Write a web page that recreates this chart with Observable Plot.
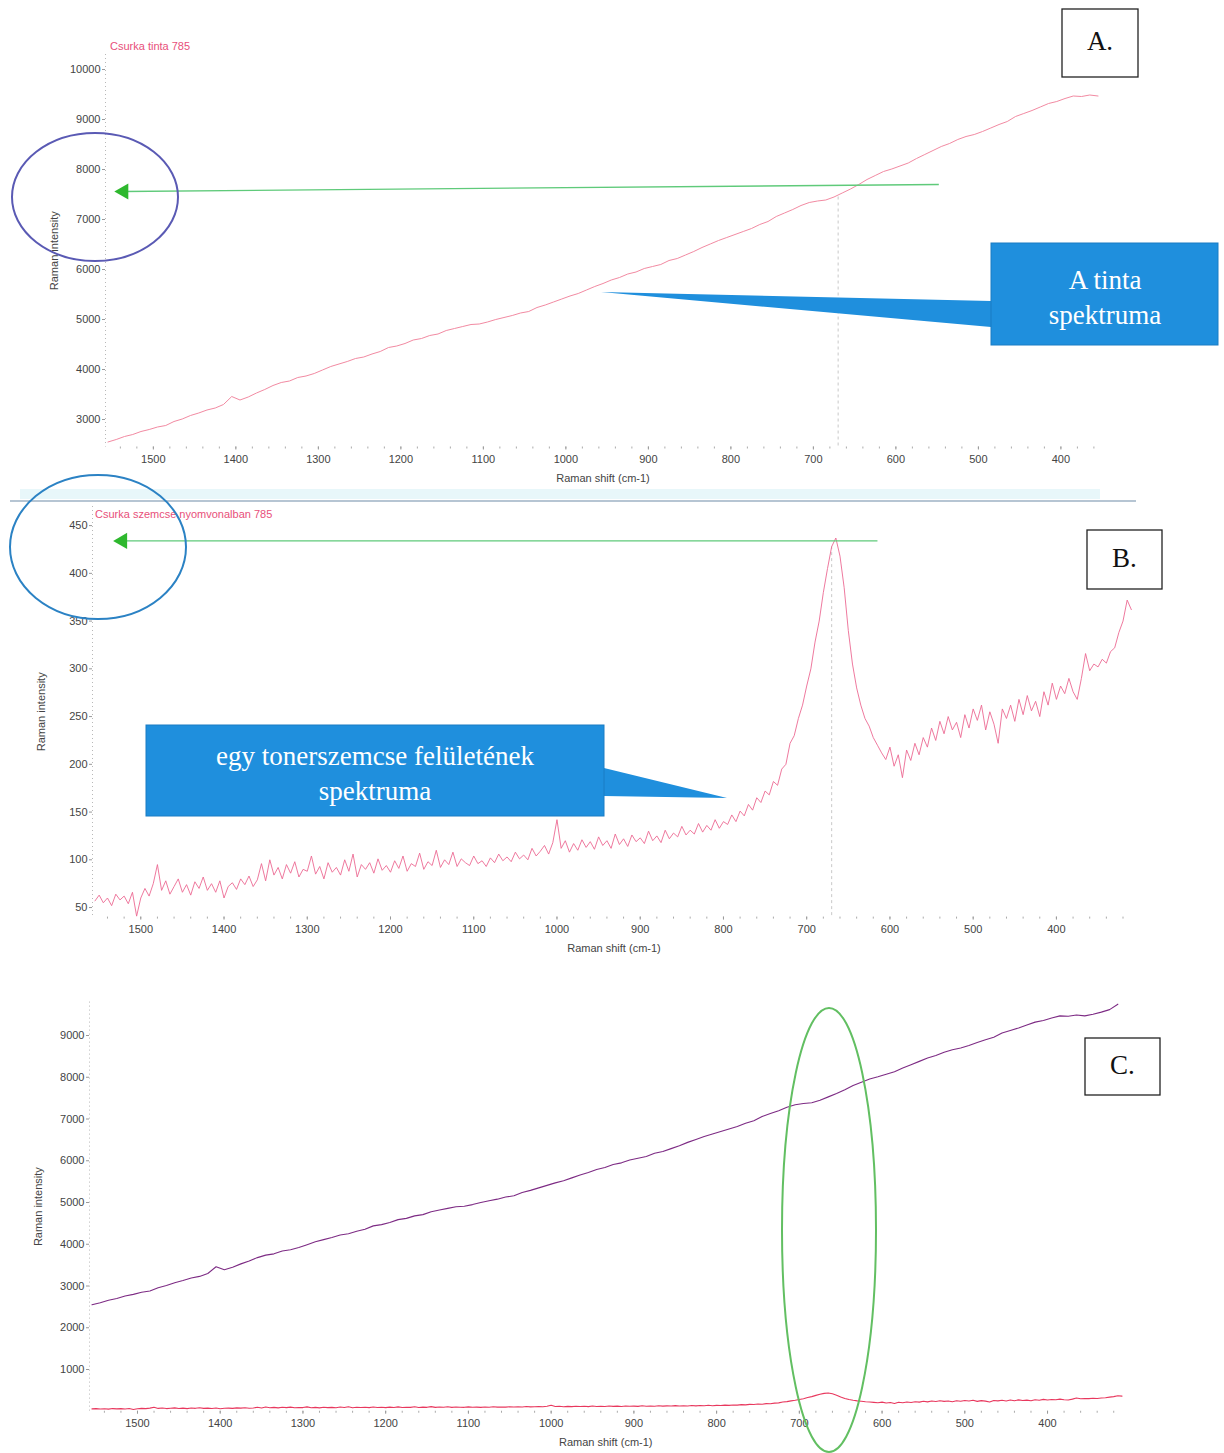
<!DOCTYPE html>
<html><head><meta charset="utf-8">
<script src="https://cdn.jsdelivr.net/npm/d3@7"></script>
<script src="https://cdn.jsdelivr.net/npm/@observablehq/plot@0.6"></script>
<style>
body{margin:0;background:#fff;}
#page{position:relative;width:1224px;height:1453px;overflow:hidden;font-family:"Liberation Sans",Arial,sans-serif;background:#fff;}
.panel{position:absolute;left:0;}
.ttl{position:absolute;font-size:11px;color:#e8507a;white-space:nowrap;line-height:12px;}
#overlay{position:absolute;left:0;top:0;}
</style></head><body><div id="page"></div>
<script>
// ---------- DATA ----------
// Ink spectrum (Csurka tinta 785), Raman shift step 10 cm-1 from 1555 down to 315
const inkShift = d3.range(1555, 314, -10);
const inkIntensity = [
  2550,2600,2660,2700,2760,2800,2850,2880,2960,3010,
  3080,3130,3190,3230,3300,3460,3390,3450,3530,3600,
  3680,3740,3770,3840,3870,3920,3990,4060,4110,4160,
  4220,4250,4310,4360,4440,4470,4520,4590,4620,4680,
  4710,4780,4820,4860,4900,4910,4950,5000,5040,5080,
  5130,5160,5240,5290,5350,5410,5470,5520,5590,5660,
  5720,5790,5840,5910,5950,6020,6060,6100,6180,6220,
  6290,6360,6440,6510,6580,6640,6700,6760,6820,6900,
  6960,7060,7130,7200,7280,7340,7370,7390,7450,7530,
  7610,7700,7800,7880,7960,8010,8070,8130,8220,8300,
  8380,8460,8520,8600,8660,8700,8760,8830,8900,8960,
  9060,9120,9180,9250,9320,9360,9420,9470,9460,9490,
  9470,9510,9560,9620,9750
];
// Toner grain spectrum (Csurka szemcse nyomvonalban 785), step 5 cm-1 from 1555 down to 310
const tonerShift = d3.range(1555, 309, -5);
const tonerIntensity = [
  57,63,55,60,52,64,58,62,54,66,41,60,70,62,75,95,68,78,64,72,
  80,66,74,63,77,70,82,68,75,66,78,60,72,76,69,80,74,83,72,79,
  96,78,100,84,92,80,95,86,98,82,90,88,104,85,93,80,97,87,92,84,
  100,88,106,82,95,90,97,86,101,89,94,87,99,91,104,88,96,93,107,90,
  98,94,110,92,100,95,108,93,101,97,94,104,96,99,93,102,97,106,99,103,
  98,108,101,105,100,112,104,109,115,106,118,142,112,120,108,117,110,121,113,119,
  111,124,115,120,112,127,116,122,114,126,119,123,117,130,120,125,118,131,122,128,
  124,135,126,131,127,138,129,136,131,142,133,140,137,147,140,151,146,158,152,165,
  160,172,168,182,178,195,200,222,230,248,262,282,300,328,350,380,405,428,437,418,
  385,340,305,280,262,248,240,228,220,212,205,218,198,210,186,215,204,222,210,228,
  218,238,225,245,232,250,236,244,228,252,238,258,246,262,236,255,242,222,258,248,
  262,245,268,252,272,256,266,250,276,262,285,268,282,274,290,276,268,290,316,298,
  305,302,310,306,318,322,338,350,372,362
];
const xTicks = [1500,1400,1300,1200,1100,1000,900,800,700,600,500,400];
const minorX = d3.range(320, 1560, 20);
const yTicksA = [3000,4000,5000,6000,7000,8000,9000,10000];
const yTicksB = [50,100,150,200,250,300,350,400,450];
const yTicksC = [1000,2000,3000,4000,5000,6000,7000,8000,9000];
const peakShift = [670];
const arrowA = [{x1: 548, y1: 7700, x2: 1536, y2: 7560}];
const arrowB = [{x1: 615, y1: 434, x2: 1522, y2: 434}];

const ink = inkShift.map((s, i) => ({shift: s, intensity: inkIntensity[i]}));
const toner = tonerShift.map((s, i) => ({shift: s, intensity: tonerIntensity[i]}));
const near = (rows, s) => rows.reduce((a, b) => Math.abs(b.shift - s) < Math.abs(a.shift - s) ? b : a);

// ---------- PANELS ----------
const page = document.getElementById("page");
const fmt = d => String(d);
function panel({top, height, mt, mb, ml, mr, xdom, ydom, yticks, marks}) {
  const lo = Math.min(...xdom), hi = Math.max(...xdom);
  const svg = Plot.plot({
    width: 1224, height, marginTop: mt, marginBottom: mb, marginLeft: ml, marginRight: mr,
    x: {domain: xdom}, y: {domain: ydom},
    style: {fontFamily: "Liberation Sans, Arial, sans-serif", fontSize: "11px", color: "#444", background: "transparent", overflow: "visible"},
    marks: [
      Plot.ruleX([xdom[0]], {stroke: "#b8b8b8", strokeDasharray: "1,3"}),
      Plot.axisY(yticks, {tickSize: 3, tickPadding: 2, tickFormat: fmt, stroke: "#999",
        label: "Raman intensity", labelAnchor: "center", labelArrow: "none", labelOffset: 55}),
      Plot.axisX(minorX.filter(d => d >= lo && d <= hi), {tickSize: 2, tickFormat: () => "", label: null, stroke: "#aaa"}),
      Plot.axisX(xTicks, {tickSize: 3, tickPadding: 5, tickFormat: fmt, stroke: "#999",
        label: "Raman shift (cm-1)", labelAnchor: "center", labelArrow: "none", labelOffset: 35}),
      ...marks
    ]
  });
  svg.classList.add("panel");
  svg.style.top = top + "px";
  page.appendChild(svg);
}

// Panel A
const inkA = ink.filter(d => d.shift >= 352);
panel({
  top: 0, height: 490, mt: 54, mb: 43.5, ml: 105, mr: 124,
  xdom: [1558, 352], ydom: [2450, 10300], yticks: yTicksA,
  marks: [
    Plot.ruleX(peakShift, {x: d => d, y1: d => near(ink, d).intensity, y2: 2450, stroke: "#c8c8c8", strokeDasharray: "3,3"}),
    Plot.line(inkA, {x: "shift", y: "intensity", stroke: "#f28aa2", strokeWidth: 1}),
    Plot.link(arrowA, {x1: "x1", y1: "y1", x2: "x2", y2: "y2", stroke: "#5fca7a", strokeWidth: 1.3}),
    Plot.dot(arrowA, {x: "x2", y: "y2", symbol: "triangle", rotate: -90, r: 6, fill: "#2eb82e", stroke: "none"})
  ]
});
// Panel B
panel({
  top: 490, height: 472, mt: 16, mb: 45.4, ml: 92, mr: 89,
  xdom: [1558, 305], ydom: [40, 470], yticks: yTicksB,
  marks: [
    Plot.ruleX(peakShift, {x: d => d, y1: d => near(toner, d).intensity, y2: 40, stroke: "#c8c8c8", strokeDasharray: "3,3"}),
    Plot.line(toner, {x: "shift", y: "intensity", stroke: "#ec6a93", strokeWidth: 0.9}),
    Plot.link(arrowB, {x1: "x1", y1: "y1", x2: "x2", y2: "y2", stroke: "#5fca7a", strokeWidth: 1.3}),
    Plot.dot(arrowB, {x: "x2", y: "y2", symbol: "triangle", rotate: -90, r: 6, fill: "#2eb82e", stroke: "none"})
  ]
});
// Panel C
panel({
  top: 962, height: 489, mt: 39.6, mb: 40.25, ml: 89, mr: 102.5,
  xdom: [1558, 310], ydom: [0, 9800], yticks: yTicksC,
  marks: [
    Plot.line(ink, {x: "shift", y: "intensity", stroke: "#7d2b84", strokeWidth: 1.1}),
    Plot.line(toner, {x: "shift", y: "intensity", stroke: "#e8385e", strokeWidth: 1.1})
  ]
});

// Titles
function title(txt, left, top) {
  const d = document.createElement("div");
  d.className = "ttl"; d.textContent = txt;
  d.style.left = left + "px"; d.style.top = top + "px";
  page.appendChild(d);
}
title("Csurka tinta 785", 110, 40);
title("Csurka szemcse nyomvonalban 785", 95, 508);

// ---------- ANNOTATION OVERLAY ----------
const ns = "http://www.w3.org/2000/svg";
const ov = document.createElementNS(ns, "svg");
ov.setAttribute("id", "overlay");
ov.setAttribute("width", 1224); ov.setAttribute("height", 1453);
function el(tag, attrs, text) {
  const e = document.createElementNS(ns, tag);
  for (const k in attrs) e.setAttribute(k, attrs[k]);
  if (text) e.textContent = text;
  ov.appendChild(e); return e;
}
// separator between A and B
el("rect", {x: 20, y: 489, width: 1080, height: 10, fill: "#e8f7fa"});
el("line", {x1: 10, y1: 501, x2: 1136, y2: 501, stroke: "#6f8ca8", "stroke-width": 1.2});
// ellipses
el("ellipse", {cx: 95, cy: 197, rx: 83, ry: 64, fill: "none", stroke: "#5a5ab4", "stroke-width": 2});
el("ellipse", {cx: 98, cy: 547, rx: 88, ry: 72, fill: "none", stroke: "#2b82c4", "stroke-width": 2});
el("ellipse", {cx: 829, cy: 1230, rx: 47, ry: 222, fill: "none", stroke: "#62bf62", "stroke-width": 2});
// letter boxes
const serif = "Liberation Serif, Times New Roman, serif";
[["A.", 1062, 9, 76, 68], ["B.", 1087, 530, 75, 59], ["C.", 1085, 1038, 75, 57]].forEach(([t, x, y, w, h]) => {
  el("rect", {x, y, width: w, height: h, fill: "#fff", stroke: "#222", "stroke-width": 1.3});
  el("text", {x: x + w / 2, y: y + h / 2 - 2, "text-anchor": "middle", "dominant-baseline": "central",
    "font-family": serif, "font-size": 27, fill: "#111"}, t);
});
// callouts
const blue = "#1f8fdd";
el("polygon", {points: "991,301 601,292 991,327", fill: blue});
el("rect", {x: 991, y: 243, width: 227, height: 102, fill: blue, stroke: "#1b7cc4", "stroke-width": 1});
el("text", {x: 1105, y: 280, "text-anchor": "middle", "dominant-baseline": "central", "font-family": serif, "font-size": 27, fill: "#fff"}, "A tinta");
el("text", {x: 1105, y: 315, "text-anchor": "middle", "dominant-baseline": "central", "font-family": serif, "font-size": 27, fill: "#fff"}, "spektruma");
el("polygon", {points: "604,768 727,798 604,796", fill: blue});
el("rect", {x: 146, y: 725, width: 458, height: 91, fill: blue, stroke: "#1b7cc4", "stroke-width": 1});
el("text", {x: 375, y: 756, "text-anchor": "middle", "dominant-baseline": "central", "font-family": serif, "font-size": 27, fill: "#fff"}, "egy tonerszemcse felületének");
el("text", {x: 375, y: 791, "text-anchor": "middle", "dominant-baseline": "central", "font-family": serif, "font-size": 27, fill: "#fff"}, "spektruma");
page.appendChild(ov);
</script>
</body></html>
